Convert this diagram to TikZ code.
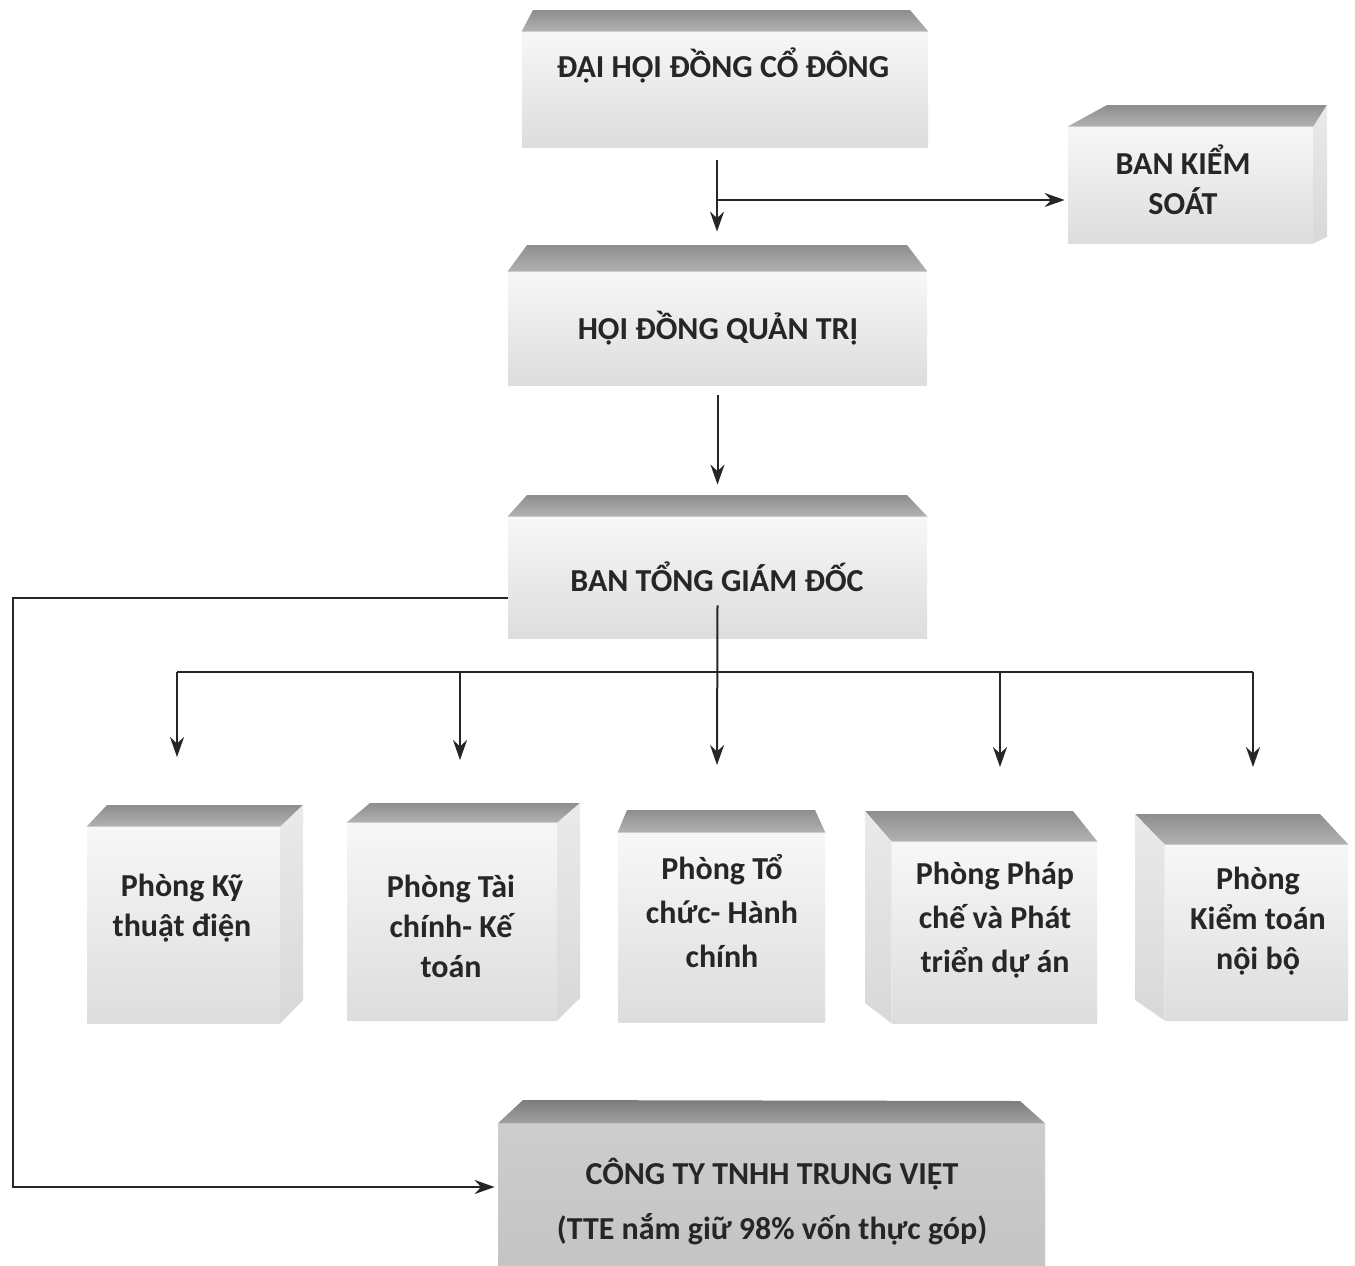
\documentclass[tikz,border=0pt]{standalone}
\usepackage{fontspec}
\setmainfont{Carlito}
\usetikzlibrary{arrows.meta,calc,fit}
\definecolor{topA}{HTML}{8E8E8E}
\definecolor{topB}{HTML}{B2B2B2}
\definecolor{frA}{HTML}{F7F7F7}
\definecolor{frB}{HTML}{DDDDDD}
\definecolor{sideA}{HTML}{EAEAEA}
\definecolor{sideB}{HTML}{D8D8D8}
\definecolor{txt}{HTML}{262626}
\definecolor{ctA}{HTML}{CDCDCD}
\definecolor{ctB}{HTML}{C2C2C2}
\definecolor{ctTop}{HTML}{8A8A8A}
\begin{document}
\begin{tikzpicture}[x=0.5pt,y=-0.5pt,
  front/.style={inner sep=0pt, draw=none, top color=frA, bottom color=frB},
  ctfront/.style={inner sep=0pt, draw=none, top color=ctA, bottom color=ctB},
  topface/.style={top color=topA, bottom color=topB, draw=none},
  cttopface/.style={top color=ctTop!90!black, bottom color=ctTop!80!white, draw=none},
  sideface/.style={top color=sideA, bottom color=sideB, draw=none},
  lbl/.style={align=center, text=txt, inner sep=0pt, font=\fontsize{16}{20}\selectfont\bfseries},
  lblw/.style={lbl, font=\fontsize{16}{22}\selectfont\bfseries},
  line/.style={draw=black!85, line width=1pt},
  arr/.style={line, -{Stealth[length=10pt,width=7pt]}}
]
\path[use as bounding box] (0,0) rectangle (1355,1265);
\clip (0,0) rectangle (1355,1265);
\fill[white] (0,0) rectangle (1355,1265);

% ---- header boxes ----
\node[front, fit={(522,32) (928,147)}] (dh) {};
\shade[topface] (dh.north west) -- (533,10) -- (910,10) -- (dh.north east) -- cycle;
\node[lbl] (dht) at (723,65) {ĐẠI HỘI ĐỒNG CỔ ĐÔNG};

\node[front, fit={(1068,127) (1313,243)}] (bks) {};
\shade[topface] (bks.north west) -- (1107,105) -- (1327,105) -- (bks.north east) -- cycle;
\shade[sideface] (bks.north east) -- (1327,105) -- (1327,237) -- (bks.south east) -- cycle;
\node[lbl] (bkst) at (1183,180) {BAN KIỂM\\SOÁT};

\node[front, fit={(508,272) (927,385)}] (hd) {};
\shade[topface] (hd.north west) -- (527,245) -- (907,245) -- (hd.north east) -- cycle;
\node[lbl] (hdt) at (718,328) {HỘI ĐỒNG QUẢN TRỊ};

\node[front, fit={(508,517) (927,638)}] (bt) {};
\shade[topface] (bt.north west) -- (527,495) -- (907,495) -- (bt.north east) -- cycle;
\node[lbl] (btt) at (717,577) {BAN TỔNG GIÁM ĐỐC};

% ---- department boxes ----
\node[front, fit={(87,827) (280,1023)}] (p1) {};
\shade[topface] (p1.north west) -- (107,805) -- (303,805) -- (p1.north east) -- cycle;
\shade[sideface] (p1.north east) -- (303,805) -- (303,1000) -- (p1.south east) -- cycle;
\node[lbl] (p1t) at (182,908) {Phòng Kỹ\\thuật điện};

\node[front, fit={(347,823) (557,1020)}] (p2) {};
\shade[topface] (p2.north west) -- (370,803) -- (580,803) -- (p2.north east) -- cycle;
\shade[sideface] (p2.north east) -- (580,803) -- (580,998) -- (p2.south east) -- cycle;
\node[lbl] (p2t) at (451,926) {Phòng Tài\\chính- Kế\\toán};

\node[front, fit={(618,833) (825,1022)}] (p3) {};
\shade[topface] (p3.north west) -- (627,810) -- (815,810) -- (p3.north east) -- cycle;
\node[lblw] (p3t) at (722,911) {Phòng Tổ\\chức- Hành\\chính};

\node[front, fit={(892,842) (1097,1023)}] (p4) {};
\shade[topface] (p4.north west) -- (865,811) -- (1073,811) -- (p4.north east) -- cycle;
\shade[sideface] (p4.north west) -- (865,811) -- (865,1003) -- (p4.south west) -- cycle;
\node[lblw] (p4t) at (995,920) {Phòng Pháp\\chế và Phát\\triển dự án};

\node[front, fit={(1165,845) (1348,1020)}] (p5) {};
\shade[topface] (p5.north west) -- (1135,814) -- (1320,814) -- (p5.north east) -- cycle;
\shade[sideface] (p5.north west) -- (1135,814) -- (1135,1000) -- (p5.south west) -- cycle;
\node[lbl] (p5t) at (1258,921) {Phòng\\Kiểm toán\\nội bộ};

% ---- subsidiary ----
\node[ctfront, fit={(498,1124) (1045,1300)}] (ct) {};
\shade[cttopface] (ct.north west) -- (523,1100) -- (1020,1101) -- (ct.north east) -- cycle;
\node[lbl, font=\fontsize{16}{27.5}\selectfont\bfseries] (ctt) at (772,1202) {CÔNG TY TNHH TRUNG VIỆT\\(TTE nắm giữ 98\% vốn thực góp)};

% ---- connectors ----
\coordinate (j1) at (717,200);
\draw[arr, shorten <=6.5pt, shorten >=20pt] (dh.south -| j1) -- (hd.north -| j1);
\draw[arr, shorten >=1.5pt] (j1) -- (j1 -| bks.west);
\draw[arr, shorten <=5pt, shorten >=16pt] (hd.south) -- (bt.north);

\coordinate (busL) at (177,672);
\coordinate (busR) at (1253,672);
\coordinate (t1) at (177,757);
\coordinate (t2) at (460,760);
\coordinate (t3) at (717,765);
\coordinate (t4) at (1000,767);
\coordinate (t5) at (1253,767);
\draw[line] (busL) -- (busR);
\draw[arr] ($(bt.south)+(0,-33)$) -- (t3);
\draw[arr] (t1 |- busL) -- (t1);
\draw[arr] (t2 |- busL) -- (t2);
\draw[arr] (t4 |- busL) -- (t4);
\draw[arr] (t5 |- busL) -- (t5);

\coordinate (lc) at (13,598);
\coordinate (lb) at (13,1187);
\draw[arr, shorten >=1.5pt] (bt.west |- lc) -- (lc) -- (lb) -- (lb -| ct.west);
\end{tikzpicture}
\end{document}
